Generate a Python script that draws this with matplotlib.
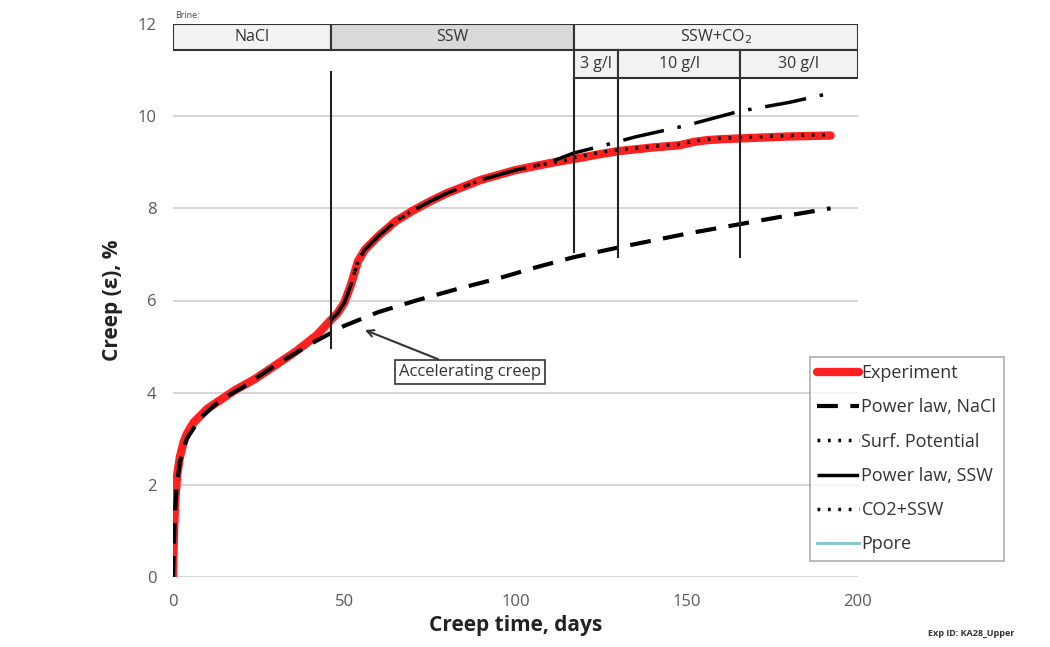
import numpy as np
import matplotlib
matplotlib.use("Agg")
import matplotlib.pyplot as plt
from matplotlib.patches import Rectangle

plt.rcParams['font.family'] = ['Open Sans', 'DejaVu Sans']

# experiment
exp_t = [0, 0.3, 0.7, 1.2, 2, 3, 4, 6, 8, 10, 14, 18, 24, 30, 36, 42, 46, 48, 50, 52,
         54, 56, 60, 65, 70, 75, 80, 90, 100, 110, 117, 125, 130, 140, 148, 152, 156, 160, 170, 180, 192]
exp_y = [0, 1.0, 1.7, 2.2, 2.6, 2.9, 3.1, 3.35, 3.5, 3.65, 3.85, 4.05, 4.3, 4.6, 4.9, 5.25, 5.57, 5.72, 5.95, 6.35,
         6.85, 7.1, 7.4, 7.72, 7.95, 8.15, 8.33, 8.62, 8.83, 8.98, 9.07, 9.18, 9.24, 9.32, 9.37, 9.44, 9.48, 9.5, 9.53, 9.56, 9.58]

nacl_t = [0, 0.5, 1, 2, 4, 8, 14, 20, 30, 40, 50, 60, 71, 83, 95, 106, 117, 130, 150, 165, 180, 192]
nacl_y = [0, 1.3, 1.9, 2.5, 3.0, 3.45, 3.85, 4.1, 4.6, 5.05, 5.45, 5.75, 6.0, 6.25, 6.48, 6.72, 6.94, 7.15, 7.45, 7.65, 7.85, 8.0]

ssw_t = [46, 48, 50, 52, 54, 56, 60, 65, 70, 75, 80, 90, 100, 110, 117, 125, 135, 150, 165, 180, 192]
ssw_y = [5.57, 5.72, 5.95, 6.35, 6.85, 7.1, 7.4, 7.72, 7.95, 8.15, 8.33, 8.62, 8.83, 9.0, 9.2, 9.35, 9.55, 9.8, 10.1, 10.3, 10.5]

surf_t = [46, 48, 50, 52, 54, 56, 60, 65, 70, 75, 80, 90, 100, 110, 117]
surf_y = [5.57, 5.72, 5.95, 6.35, 6.85, 7.1, 7.4, 7.72, 7.95, 8.15, 8.33, 8.62, 8.83, 8.98, 9.07]

co2_t = [117, 125, 130, 140, 148, 152, 156, 160, 170, 180, 192]
co2_y = [9.1, 9.22, 9.27, 9.34, 9.39, 9.46, 9.5, 9.52, 9.55, 9.58, 9.6]

# brine header
brine_names = ['NaCl', 'SSW', 'SSW+CO$_2$']
brine_edges = [0, 46, 117, 200]
brine_fill = ['#f2f2f2', '#d9d9d9', '#f2f2f2']
conc_names = ['3 g/l', '10 g/l', '30 g/l']
conc_edges = [117, 130, 165.5, 200]

# vertical markers: (day, bottom, top)
marks = [(46, 4.97, 10.95), (117, 7.05, 10.83), (130, 6.95, 10.83), (165.5, 6.95, 10.83)]

fig = plt.figure(figsize=(10.5, 6.47), dpi=100)
ax = fig.add_axes([173/1050, 1-577/647, 685/1050, 553/647])
ax.set_xlim(0, 200)
ax.set_ylim(0, 12)
ax.set_xticks([0, 50, 100, 150, 200])
ax.set_yticks([0, 2, 4, 6, 8, 10, 12])
ax.tick_params(length=0, labelsize=12, labelcolor='#595959', pad=12)
ax.grid(axis='y', color='#d0d0d0', lw=1.2)
ax.set_axisbelow(True)
for s in ax.spines.values():
    s.set_visible(False)

ax.plot([], [], color='#7fc4d6', lw=2, label='Ppore_')
ax.plot(exp_t, exp_y, color='#ff2020', lw=6, solid_capstyle='round', label='Experiment', zorder=3)
ax.plot(nacl_t, nacl_y, color='black', lw=3, dashes=(5, 3), label='Power law, NaCl', zorder=4)
ax.plot(surf_t, surf_y, color='black', lw=2.5, dashes=(0.8, 2.2), label='Surf. Potential', zorder=5)
ax.plot(ssw_t, ssw_y, color='black', lw=2.5, dashes=(12, 4, 1, 4), label='Power law, SSW', zorder=4)
ax.plot(co2_t, co2_y, color='black', lw=2.5, dashes=(0.8, 2.2), label='CO2+SSW', zorder=5)

for d, y0, y1 in marks:
    ax.plot([d, d], [y0, y1], color='#222222', lw=1.5, zorder=6)

# header table
for i, name in enumerate(brine_names):
    x0, x1 = brine_edges[i], brine_edges[i + 1]
    ax.add_patch(Rectangle((x0, 11.44), x1 - x0, 0.56, facecolor=brine_fill[i],
                           edgecolor='#333333', lw=1.5, zorder=7))
    ax.text((x0 + x1) / 2, 11.72, name, ha='center', va='center', fontsize=11.5, color='#333333', zorder=8)
for i, name in enumerate(conc_names):
    x0, x1 = conc_edges[i], conc_edges[i + 1]
    ax.add_patch(Rectangle((x0, 10.83), x1 - x0, 0.61, facecolor='#f2f2f2',
                           edgecolor='#333333', lw=1.5, zorder=7))
    ax.text((x0 + x1) / 2, 11.14, name, ha='center', va='center', fontsize=11.5, color='#333333', zorder=8)
ax.text(0.5, 12.08, 'Brine:', fontsize=6.5, color='#444444', va='bottom')

ax.annotate('Accelerating creep', xy=(56, 5.36), xytext=(66, 4.45), fontsize=12, color='#333333',
            ha='left', va='center',
            bbox=dict(boxstyle='square,pad=0.25', fc='white', ec='#333333', lw=1.2),
            arrowprops=dict(arrowstyle='->', color='#333333', lw=1.5, shrinkA=0, shrinkB=0))

ax.set_xlabel('Creep time, days', fontsize=15, fontweight='bold', color='#222222', labelpad=4)
ax.set_ylabel('Creep (ε), %', fontsize=15, fontweight='bold', color='#222222', labelpad=10)

h, l = ax.get_legend_handles_labels()
order = [1, 2, 3, 4, 5, 0]
leg = fig.legend([h[i] for i in order], ['Ppore' if l[i] == 'Ppore_' else l[i] for i in order],
                 loc='upper left', bbox_to_anchor=(810/1050, 1-357/647), fontsize=13,
                 labelspacing=0.9, handlelength=2.3, handletextpad=0.15, borderpad=0.4,
                 borderaxespad=0, frameon=True, fancybox=False, edgecolor='#999999', labelcolor='#333333')
leg.get_frame().set_linewidth(1.2)

fig.text(928/1050, 1-633/647, 'Exp ID: KA28_Upper', fontsize=6.5, fontweight='bold', color='#333333', va='center')

fig.savefig('out.png', dpi=100)
